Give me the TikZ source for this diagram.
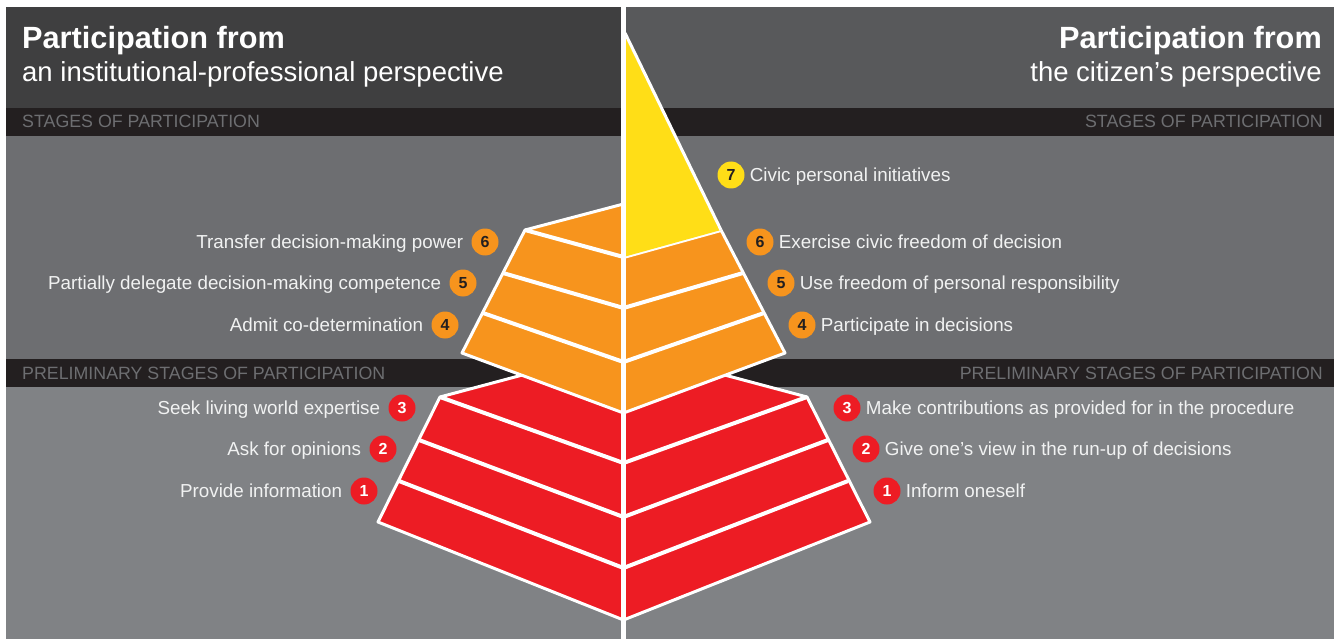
\documentclass[tikz,border=0pt]{standalone}
\usepackage{fontspec}
\setmainfont{Liberation Sans}
\definecolor{hdrL}{HTML}{3F3F40}
\definecolor{hdrR}{HTML}{58595B}
\definecolor{bandc}{HTML}{231F20}
\definecolor{midg}{HTML}{6D6E71}
\definecolor{lowg}{HTML}{808285}
\definecolor{bandtxt}{HTML}{6D6E71}
\definecolor{pyrO}{HTML}{F7941D}
\definecolor{pyrR}{HTML}{ED1C24}
\definecolor{pyrY}{HTML}{FFDE17}
\definecolor{lblc}{HTML}{F1F2F2}
\tikzset{
  badge/.style={circle, minimum size=27pt, inner sep=0pt, font=\fontsize{16}{16}\selectfont\bfseries},
  bo/.style={badge, fill=pyrO, text=bandc},
  br/.style={badge, fill=pyrR, text=white},
  byl/.style={badge, fill=pyrY, text=bandc},
  lbl/.style={text=lblc, font=\fontsize{18.8}{20}\selectfont, inner sep=0pt},
  bandlbl/.style={text=bandtxt, font=\fontsize{17.8}{18}\selectfont, inner sep=0pt},
  ttl/.style={text=white, font=\fontsize{30.7}{32}\selectfont\bfseries, inner sep=0pt},
  subttl/.style={text=white, font=\fontsize{27.5}{29}\selectfont, inner sep=0pt},
  stripe/.style={white, line width=4pt},
  outl/.style={white, line width=3pt, line join=round},
}
\begin{document}
\begin{tikzpicture}[x=1pt, y=-1pt]
\useasboundingbox (0,0) rectangle (1338,639);
\fill[white] (0,0) rectangle (1338,639);
% panels
\fill[hdrL] (6,7) rectangle (621,108);
\fill[hdrR] (626,7) rectangle (1334,108);
\fill[bandc] (6,108) rectangle (1334,136);
\fill[midg] (6,136) rectangle (1334,359);
\fill[bandc] (6,359) rectangle (1334,387);
\fill[lowg] (6,387) rectangle (1334,639);
% red part
\fill[pyrR] (440,397) -- (378,522) -- (623.5,620) -- (623.5,348) -- cycle;
\fill[pyrR] (807,397) -- (870,522) -- (623.5,620) -- (623.5,348) -- cycle;
\draw[outl] (623.5,348) -- (440,397) -- (378,522) -- (623.5,620) -- (870,522) -- (807,397) -- cycle;
\draw[stripe] (440,397) -- (623.5,463) -- (807,397);
\draw[stripe] (419,440) -- (623.5,517) -- (828,440);
\draw[stripe] (399,481) -- (623.5,568) -- (848,481);
% orange part
\fill[pyrO] (623.5,204) -- (525,230) -- (462,353) -- (623.5,413) -- cycle;
\fill[pyrO] (623.5,257) -- (721,230) -- (785,353) -- (623.5,413) -- cycle;
\draw[outl] (623.5,204) -- (525,230) -- (462,353) -- (623.5,413) -- (785,353) -- (721,230);
\draw[stripe] (525,230) -- (623.5,257) -- (721,230);
\draw[stripe] (503,273) -- (623.5,308) -- (743,273);
\draw[stripe] (483,313) -- (623.5,362) -- (764,313);
% yellow top
\fill[pyrY] (623.5,33) -- (721,230) -- (623.5,257) -- cycle;
\draw[outl] (625,33) -- (721,230);
% centre white line
\draw[white, line width=5pt] (623.5,7) -- (623.5,639);
% titles
\node[ttl, anchor=base west] (tl1) at (22,49) {Participation from};
\node[subttl, anchor=base west] (tl2) at (22,82) {an institutional-professional perspective};
\node[ttl, anchor=base east] (tr1) at (1322,49) {Participation from};
\node[subttl, anchor=base east] (tr2) at (1322,82) {the citizen’s perspective};
\node[bandlbl, anchor=base west] (sl) at (22,128) {STAGES OF PARTICIPATION};
\node[bandlbl, anchor=base east] (sr) at (1323,128) {STAGES OF PARTICIPATION};
\node[bandlbl, anchor=base west] (pl) at (22,379.5) {PRELIMINARY STAGES OF PARTICIPATION};
\node[bandlbl, anchor=base east] (pr) at (1323,379.5) {PRELIMINARY STAGES OF PARTICIPATION};
% left badges and labels
\node[bo] (l6) at (485,242) {6};
\node[bo] (l5) at (463,283) {5};
\node[bo] (l4) at (445,325) {4};
\node[br] (l3) at (402,408) {3};
\node[br] (l2) at (383,449) {2};
\node[br] (l1) at (364,491) {1};
\node[lbl, anchor=base east] (tl6) at ([xshift=-8pt, yshift=-6.7pt]l6.west) {Transfer decision-making power};
\node[lbl, anchor=base east] (tl5) at ([xshift=-8pt, yshift=-6.7pt]l5.west) {Partially delegate decision-making competence};
\node[lbl, anchor=base east] (tl4) at ([xshift=-8pt, yshift=-6.7pt]l4.west) {Admit co-determination};
\node[lbl, anchor=base east] (tl3) at ([xshift=-8pt, yshift=-6.7pt]l3.west) {Seek living world expertise};
\node[lbl, anchor=base east] (tl2b) at ([xshift=-8pt, yshift=-6.7pt]l2.west) {Ask for opinions};
\node[lbl, anchor=base east] (tl1b) at ([xshift=-8pt, yshift=-6.7pt]l1.west) {Provide information};
% right badges and labels
\node[byl] (r7) at (731,175) {7};
\node[bo] (r6) at (760,242) {6};
\node[bo] (r5) at (781,283) {5};
\node[bo] (r4) at (802,325) {4};
\node[br] (r3) at (847,408) {3};
\node[br] (r2) at (866,449) {2};
\node[br] (r1) at (887,491) {1};
\node[lbl, anchor=base west] (tr7) at ([xshift=5pt, yshift=-6.7pt]r7.east) {Civic personal initiatives};
\node[lbl, anchor=base west] (tr6) at ([xshift=5pt, yshift=-6.7pt]r6.east) {Exercise civic freedom of decision};
\node[lbl, anchor=base west] (tr5) at ([xshift=5pt, yshift=-6.7pt]r5.east) {Use freedom of personal responsibility};
\node[lbl, anchor=base west] (tr4) at ([xshift=5pt, yshift=-6.7pt]r4.east) {Participate in decisions};
\node[lbl, anchor=base west] (tr3) at ([xshift=5pt, yshift=-6.7pt]r3.east) {Make contributions as provided for in the procedure};
\node[lbl, anchor=base west] (tr2b) at ([xshift=5pt, yshift=-6.7pt]r2.east) {Give one’s view in the run-up of decisions};
\node[lbl, anchor=base west] (tr1b) at ([xshift=5pt, yshift=-6.7pt]r1.east) {Inform oneself};
\end{tikzpicture}
\end{document}
